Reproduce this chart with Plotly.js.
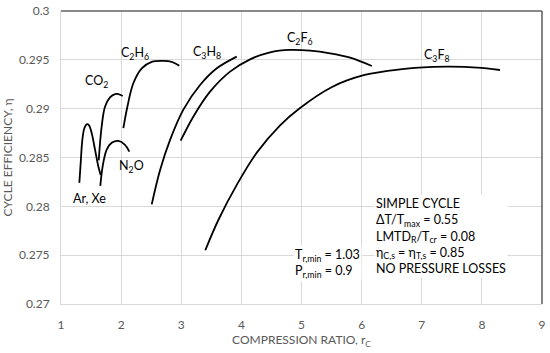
<!DOCTYPE html>
<html>
<head>
<meta charset="utf-8">
<script src="https://cdn.plot.ly/plotly-3.0.1.min.js"></script>
<style>html,body{margin:0;padding:0;background:#fff;}#chart{width:550px;height:353px;}</style>
</head>
<body>
<div id="chart"></div>
<script>
// Series data (compression ratio r_C vs cycle efficiency)
var arX  = [1.305, 1.327, 1.355, 1.388, 1.427, 1.466, 1.51, 1.566, 1.62, 1.66];
var arY  = [0.2824, 0.2844, 0.2868, 0.2880, 0.2884, 0.2883, 0.2875, 0.2858, 0.2841, 0.2832];
var co2X = [1.627, 1.677, 1.732, 1.815, 1.899, 1.954, 2.026];
var co2Y = [0.2847, 0.2882, 0.2902, 0.29116, 0.2915, 0.2915, 0.2913];
var n2oX = [1.654, 1.693, 1.76, 1.843, 1.954, 2.065, 2.137];
var n2oY = [0.2821, 0.2841, 0.2858, 0.2865, 0.2867, 0.2863, 0.2856];
var c2h6X = [2.037, 2.104, 2.203, 2.343, 2.509, 2.703, 2.842, 2.968];
var c2h6Y = [0.2880, 0.2902, 0.2926, 0.29413, 0.2948, 0.2949, 0.2948, 0.2944];
var c3h8X = [2.509, 2.647, 2.814, 3.035, 3.313, 3.591, 3.923];
var c3h8Y = [0.2802, 0.2837, 0.2868, 0.2899, 0.29242, 0.29413, 0.29533];
var c2f6X = [2.99, 3.2, 3.479, 3.812, 4.145, 4.478, 4.81, 5.143, 5.476, 5.809, 6.17];
var c2f6Y = [0.28672, 0.28918, 0.29174, 0.29379, 0.29505, 0.29577, 0.29601, 0.29594, 0.29567, 0.29522, 0.29437];
var c3f8X = [3.40, 3.617, 3.923, 4.256, 4.644, 4.96, 5.5, 6.05, 6.64, 7.19, 7.47, 7.92, 8.30];
var c3f8Y = [0.2755, 0.2786, 0.2822, 0.2855, 0.2883, 0.2900, 0.2922, 0.29345, 0.29403, 0.29427, 0.2943, 0.2942, 0.29396];

// Curve labels
var labelText = ["Ar, Xe", "CO<sub>2</sub>", "N<sub>2</sub>O", "C<sub>2</sub>H<sub>6</sub>", "C<sub>3</sub>H<sub>8</sub>", "C<sub>2</sub>F<sub>6</sub>", "C<sub>3</sub>F<sub>8</sub>"];
var labelX = [1.47, 1.594, 2.176, 2.23, 3.42, 4.98, 7.25];
var labelY = [0.2808, 0.29283, 0.28406, 0.29567, 0.29577, 0.2972, 0.29549];

var noteText = "SIMPLE CYCLE<br>ΔT/T<sub>max</sub> = 0.55<br>LMTD<sub>R</sub>/T<sub>cr</sub> = 0.08<br>η<sub>C,s</sub> = η<sub>T,s</sub> = 0.85<br>NO PRESSURE LOSSES";
var condText = "T<sub>r,min</sub> = 1.03<br>P<sub>r,min</sub> = 0.9";

var FONT = "Lato, 'Open Sans', sans-serif";
var series = [[arX, arY], [co2X, co2Y], [n2oX, n2oY], [c2h6X, c2h6Y], [c3h8X, c3h8Y], [c2f6X, c2f6Y], [c3f8X, c3f8Y]];
var traces = series.map(function (s) {
  return {x: s[0], y: s[1], mode: 'lines', type: 'scatter',
          line: {color: '#000', width: 1.8, shape: 'spline', smoothing: 1},
          hoverinfo: 'skip', showlegend: false};
});

var annotations = labelText.map(function (t, i) {
  return {x: labelX[i], y: labelY[i], xref: 'x', yref: 'y', text: t, showarrow: false,
          font: {family: FONT, size: 12.5, color: '#000'}};
});
annotations.push({x: 6.21, y: 0.28126, xref: 'x', yref: 'y', xanchor: 'left', yanchor: 'top', align: 'left',
  text: noteText, showarrow: false, bgcolor: '#fff', font: {family: FONT, size: 12.5, color: '#000'}});
annotations.push({x: 4.86, y: 0.27604, xref: 'x', yref: 'y', xanchor: 'left', yanchor: 'top', align: 'left',
  text: condText, showarrow: false, bgcolor: '#fff', font: {family: FONT, size: 12.5, color: '#000'}});

var layout = {
  width: 550, height: 353,
  margin: {l: 61, r: 8, t: 11, b: 49},
  paper_bgcolor: '#fff', plot_bgcolor: '#fff',
  font: {family: FONT, size: 12, color: '#595959'},
  xaxis: {range: [1, 9], dtick: 1, tick0: 1, showgrid: true, gridcolor: '#d9d9d9', gridwidth: 1,
          zeroline: false, showline: true, linecolor: '#d9d9d9', linewidth: 1, ticks: '',
          ticklabelstandoff: 10, tickfont: {family: FONT, size: 12, color: '#595959'},
          title: {text: 'COMPRESSION RATIO, r<sub>C</sub>', standoff: 4, font: {family: FONT, size: 12, color: '#595959'}},
          fixedrange: true},
  yaxis: {range: [0.27, 0.3], dtick: 0.005, tick0: 0.27, showgrid: true, gridcolor: '#d9d9d9', gridwidth: 1,
          zeroline: false, showline: true, linecolor: '#d9d9d9', linewidth: 1, ticks: '',
          ticklabelstandoff: 8, tickfont: {family: FONT, size: 12, color: '#595959'},
          title: {text: 'CYCLE EFFICIENCY, η', standoff: 6, font: {family: FONT, size: 12, color: '#595959'}},
          fixedrange: true},
  shapes: [
    {type: 'line', xref: 'paper', yref: 'paper', x0: 0, x1: 1, y0: 1, y1: 1, line: {color: '#8a8a8a', width: 2}},
    {type: 'line', xref: 'paper', yref: 'paper', x0: 1, x1: 1, y0: 0, y1: 1, line: {color: '#5a5a5a', width: 1.5}}
  ],
  annotations: annotations
};

Plotly.newPlot('chart', traces, layout, {displayModeBar: false, staticPlot: true});
</script>
</body>
</html>
